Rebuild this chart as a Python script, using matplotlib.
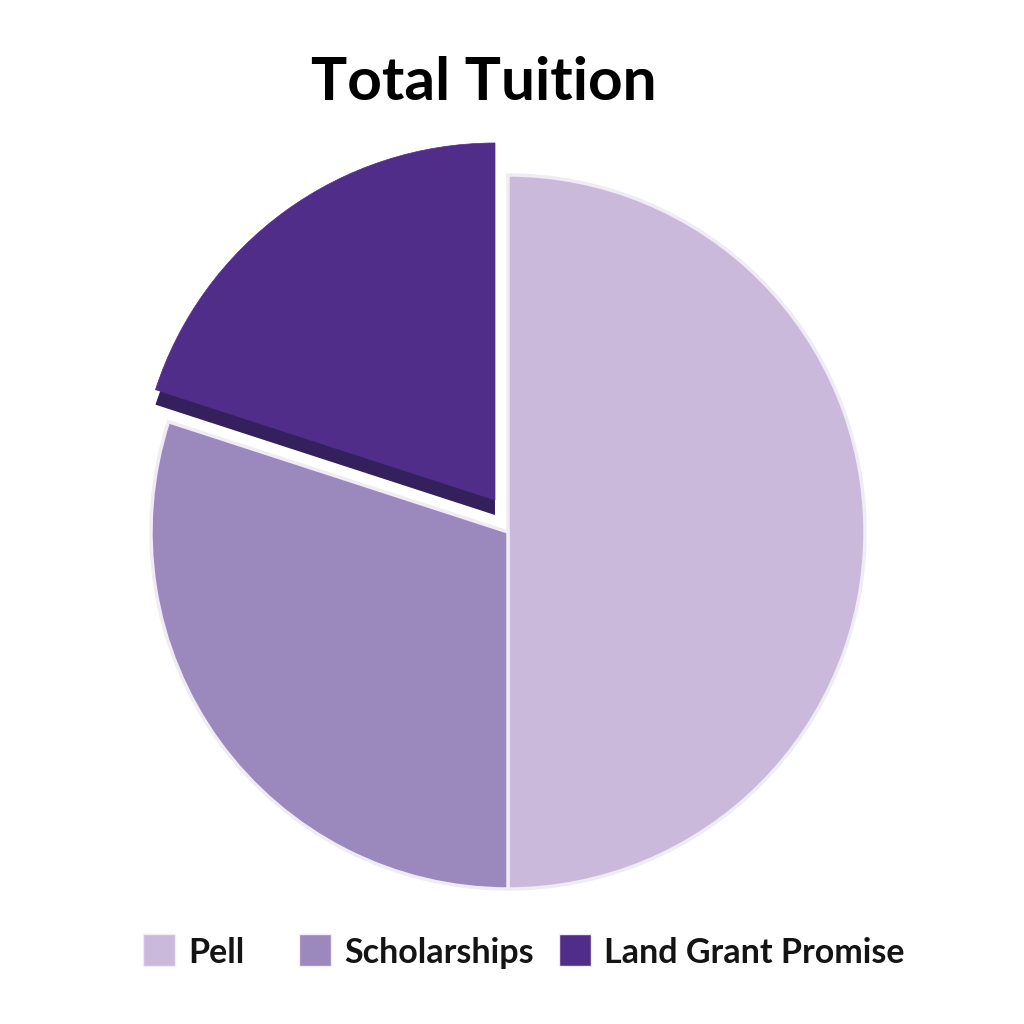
import matplotlib.pyplot as plt
from matplotlib.patches import Wedge, Rectangle

labels = ["Pell", "Scholarships", "Land Grant Promise"]
shares = [50, 30, 20]
colors = ["#cbb9dc", "#9b89bd", "#512d8a"]
shadow_color = "#33205d"

plt.rcParams['font.family'] = ['Lato', 'DejaVu Sans']

fig = plt.figure(figsize=(10.24, 10.24), dpi=100)
ax = fig.add_axes([0, 0, 1, 1])

cx, cy, r = 508, 492, 357
wedges, _ = ax.pie(shares, colors=colors, startangle=90, counterclock=False,
                   center=(cx, cy), radius=r, frame=True,
                   wedgeprops=dict(edgecolor='#f0ecf5', linewidth=2.5))
ax.set_xlim(0, 1024)
ax.set_ylim(0, 1024)
ax.set_aspect('equal')
ax.axis('off')

# pull the Land Grant slice out and give it a dark "depth" underneath
lg = wedges[2]
lg.set_center((cx - 13, cy + 32))
lg.set_edgecolor(colors[2])
lg.set_linewidth(0.5)
shadow = Wedge((cx - 13, cy + 17), r, lg.theta1, lg.theta2,
               facecolor=shadow_color, edgecolor='none', zorder=lg.get_zorder() - 0.5)
ax.add_patch(shadow)
lg.set_zorder(lg.get_zorder() + 0.1)

ax.text(484, 924, "Total Tuition", ha='center', va='baseline',
        fontsize=43.5, fontweight='bold', color='black')

# legend, laid out by hand
leg_x = [143, 299, 559]
for x0, lab, col in zip(leg_x, labels, colors):
    ax.add_patch(Rectangle((x0, 58), 32, 32, facecolor=col, edgecolor='#f0ecf5', linewidth=1))
    ax.text(x0 + 45, 61, lab, ha='left', va='baseline', fontsize=24.5,
            fontweight='bold', color='#141414')

fig.savefig("out.png", dpi=100, facecolor='white')
